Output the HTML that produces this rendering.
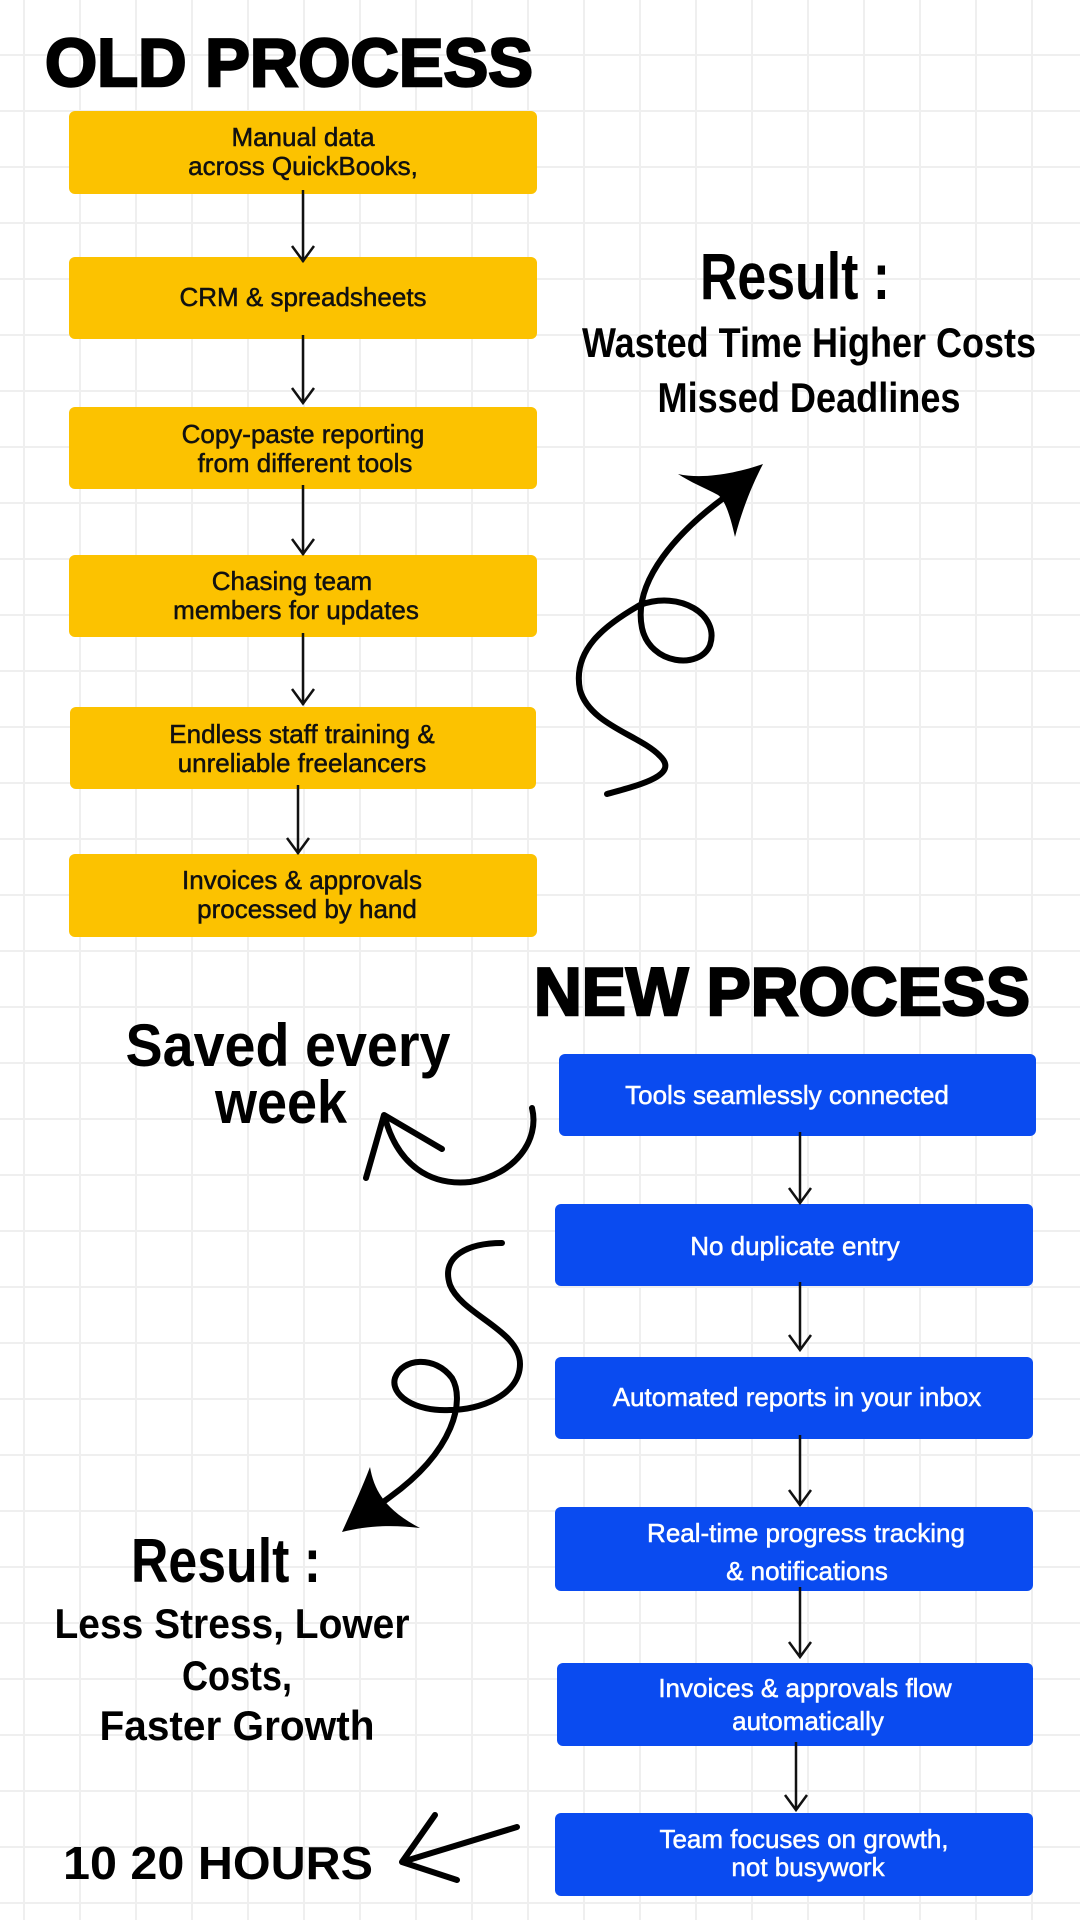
<!DOCTYPE html>
<html><head><meta charset="utf-8"><style>
html,body{margin:0;padding:0;}
body{width:1080px;height:1920px;overflow:hidden;background:#fff;
background-image:linear-gradient(to right,#efefef 0,#efefef 2px,transparent 2px),linear-gradient(to bottom,#efefef 0,#efefef 2px,transparent 2px);
background-size:56px 56px;background-position:23px 54px;}
svg{position:absolute;left:0;top:0}
</style></head><body>
<svg width="1080" height="1920" viewBox="0 0 1080 1920" xmlns="http://www.w3.org/2000/svg">
<style>
.t{font-family:"Liberation Sans",Arial,sans-serif;font-size:26px;text-anchor:middle;stroke-width:0.5}
.h{font-family:"Liberation Sans Narrow","Liberation Sans",sans-serif;font-weight:bold;text-anchor:middle;fill:#000}
.ttl{font-family:"Liberation Sans",sans-serif;font-weight:900;font-size:68px;fill:#000;stroke:#000;stroke-width:2.5}
</style>
<text class="ttl" x="45" y="86" textLength="488" lengthAdjust="spacingAndGlyphs">OLD PROCESS</text>
<g fill="#FCC200">
<rect x="69" y="111" width="468" height="83" rx="6"/>
<rect x="69" y="257" width="468" height="82" rx="6"/>
<rect x="69" y="407" width="468" height="82" rx="6"/>
<rect x="69" y="555" width="468" height="82" rx="6"/>
<rect x="70" y="707" width="466" height="82" rx="6"/>
<rect x="69" y="854" width="468" height="83" rx="6"/>
</g>
<g class="t" fill="#111" stroke="#111">
<text x="303" y="146">Manual data</text><text x="303" y="175">across QuickBooks,</text>
<text x="303" y="306">CRM &amp; spreadsheets</text>
<text x="303" y="443">Copy-paste reporting</text><text x="305" y="472">from different tools</text>
<text x="292" y="590">Chasing team</text><text x="296" y="619">members for updates</text>
<text x="302" y="743">Endless staff training &amp;</text><text x="302" y="772">unreliable freelancers</text>
<text x="302" y="889">Invoices &amp; approvals</text><text x="307" y="918">processed by hand</text>
</g>
<g stroke="#111" stroke-width="2.5" fill="none">
<path d="M303 190V262M292 246l11 15 11-15"/>
<path d="M303 335V403M292 388l11 15 11-15"/>
<path d="M303 485V555M292 539l11 15 11-15"/>
<path d="M303 633V705M292 689l11 15 11-15"/>
<path d="M298 785V854M287 838l11 15 11-15"/>
</g>
<text class="h" x="795" y="299" font-size="66" textLength="190" lengthAdjust="spacingAndGlyphs">Result :</text>
<text class="h" x="809" y="357" font-size="42" textLength="454" lengthAdjust="spacingAndGlyphs">Wasted Time Higher Costs</text>
<text class="h" x="809" y="412" font-size="42" textLength="303" lengthAdjust="spacingAndGlyphs">Missed Deadlines</text>
<path d="M607 794C640 785 680 775 660 756C640 735 590 725 580 690C572 650 605 625 640 605C680 590 720 615 710 645C700 670 650 665 642 628C632 580 680 530 725 497" stroke="#000" stroke-width="6" fill="none" stroke-linecap="round"/>
<path d="M678 474C705 480 740 472 763 464C752 485 742 510 735 537C730 515 725 500 718 495C705 488 690 482 678 474Z" fill="#000"/>
<text class="ttl" x="534" y="1015" textLength="496" lengthAdjust="spacingAndGlyphs">NEW PROCESS</text>
<g fill="#0A4BF0">
<rect x="559" y="1054" width="477" height="82" rx="6"/>
<rect x="555" y="1204" width="478" height="82" rx="6"/>
<rect x="555" y="1357" width="478" height="82" rx="6"/>
<rect x="555" y="1507" width="478" height="84" rx="6"/>
<rect x="557" y="1663" width="476" height="83" rx="6"/>
<rect x="555" y="1813" width="478" height="83" rx="6"/>
</g>
<g class="t" fill="#fff" stroke="#fff">
<text x="787" y="1104">Tools seamlessly connected</text>
<text x="795" y="1255">No duplicate entry</text>
<text x="797" y="1406">Automated reports in your inbox</text>
<text x="806" y="1542">Real-time progress tracking</text><text x="807" y="1580">&amp; notifications</text>
<text x="805" y="1697">Invoices &amp; approvals flow</text><text x="808" y="1730">automatically</text>
<text x="804" y="1848">Team focuses on growth,</text><text x="808" y="1876">not busywork</text>
</g>
<g stroke="#111" stroke-width="2.5" fill="none">
<path d="M800 1132V1203M789 1188l11 15 11-15"/>
<path d="M800 1282V1350M789 1335l11 15 11-15"/>
<path d="M800 1435V1505M789 1490l11 15 11-15"/>
<path d="M800 1587V1657M789 1642l11 15 11-15"/>
<path d="M796 1742V1810M785 1795l11 15 11-15"/>
</g>
<text class="h" x="288" y="1066" font-size="60" textLength="325" lengthAdjust="spacingAndGlyphs">Saved every</text>
<text class="h" x="281" y="1123" font-size="60" textLength="132" lengthAdjust="spacingAndGlyphs">week</text>
<path d="M532 1108C540 1140 515 1175 470 1182C430 1186 398 1165 385 1118" stroke="#000" stroke-width="6" fill="none" stroke-linecap="round"/>
<path d="M442 1149L384 1115L366 1178" stroke="#000" stroke-width="6" fill="none" stroke-linecap="round" stroke-linejoin="round"/>
<path d="M502 1243C470 1243 440 1255 450 1285C462 1315 520 1330 520 1364C520 1395 480 1410 450 1410C415 1412 390 1395 395 1378C402 1358 435 1355 452 1378C465 1400 455 1450 390 1497L352 1525" stroke="#000" stroke-width="6" fill="none" stroke-linecap="round"/>
<path d="M342 1532C352 1510 362 1488 370 1467C374 1490 385 1510 420 1528C395 1525 370 1525 342 1532Z" fill="#000"/>
<text class="h" x="226" y="1582" font-size="62" textLength="190" lengthAdjust="spacingAndGlyphs">Result :</text>
<text class="h" x="232" y="1638" font-size="42" textLength="355" lengthAdjust="spacingAndGlyphs">Less Stress, Lower</text>
<text class="h" x="237" y="1690" font-size="42" textLength="110" lengthAdjust="spacingAndGlyphs">Costs,</text>
<text class="h" x="237" y="1740" font-size="42" textLength="275" lengthAdjust="spacingAndGlyphs">Faster Growth</text>
<text class="h" x="218" y="1879" font-size="46" textLength="310" lengthAdjust="spacingAndGlyphs">10 20 HOURS</text>
<path d="M517 1827L402 1862M435 1815L402 1862L457 1880" stroke="#000" stroke-width="6" fill="none" stroke-linecap="round" stroke-linejoin="round"/>
</svg>
</body></html>
